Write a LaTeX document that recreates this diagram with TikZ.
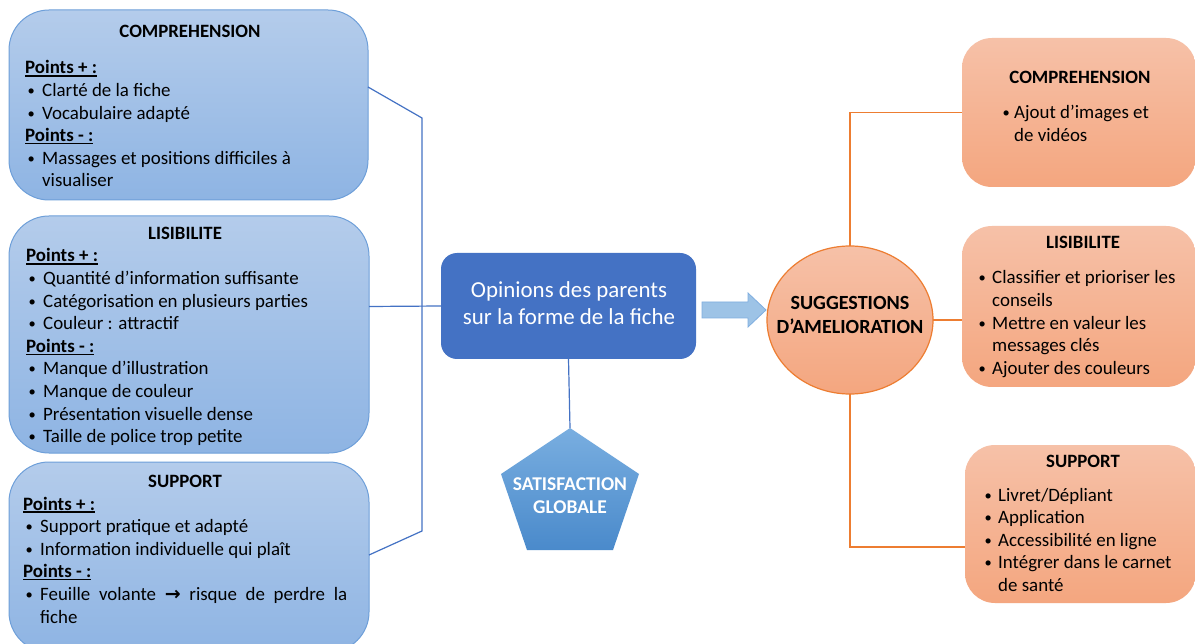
\documentclass[tikz,border=0pt]{standalone}
\usepackage{fontspec}
\setmainfont{Carlito}
\newfontfamily\arrfont{DejaVu Sans}
\usetikzlibrary{shapes.geometric,calc}
\definecolor{lbTop}{HTML}{B4CCEB}
\definecolor{lbBot}{HTML}{8EB4E3}
\definecolor{lbBorder}{HTML}{6E9FD9}
\definecolor{cBlue}{HTML}{4472C4}
\definecolor{orTop}{HTML}{F6C1A8}
\definecolor{orBot}{HTML}{F4A67F}
\definecolor{orLine}{HTML}{ED7D31}
\definecolor{arrFill}{HTML}{9DC3E6}
\definecolor{arrBorder}{HTML}{7FAEE0}
\definecolor{pTop}{HTML}{79AEE0}
\definecolor{pBot}{HTML}{4A8ACB}
\newlength\bw
\newcommand\ulx[1]{\setbox0\hbox{#1}\rlap{\rule[-2.6pt]{\wd0}{1.3pt}}\box0}
\newcommand\hd[1]{\par\noindent\textbf{\ulx{#1}}}
\newcommand\bdot{\hspace*{2.5pt}\raisebox{1pt}{\fontsize{14.5}{14.5}\selectfont\textbullet}}
\newcommand\bl[1]{\par\noindent\makebox[\bw][l]{\bdot}#1}
\newcommand\ct[1]{\par\noindent\hspace*{\bw}#1}
\tikzset{
  lbox/.style={rectangle, rounded corners=40pt, draw=lbBorder, line width=1pt, top color=lbTop, bottom color=lbBot, inner sep=0pt, outer sep=0pt},
  rbox/.style={rectangle, rounded corners=30pt, draw=none, top color=orTop, bottom color=orBot, inner sep=0pt, outer sep=0pt},
  ttl/.style={font=\fontsize{18.8}{22}\selectfont\bfseries, inner sep=0pt, anchor=base},
  txt/.style={font=\fontsize{18.9}{22.6}\selectfont, inner sep=0pt, anchor=base west},
  bline/.style={draw=cBlue, line width=1.2pt},
  oline/.style={draw=orLine, line width=1.5pt},
}
\begin{document}
\begin{tikzpicture}[x=1pt,y=-1pt]
\path[use as bounding box, clip] (0,0) rectangle (1195,644);
\fill[white] (0,0) rectangle (1195,644);
% left boxes
\node[lbox, minimum width=359pt, minimum height=190pt] (L1) at (188.5,105) {};
\node[lbox, minimum width=360pt, minimum height=237pt] (L2) at (189,334.5) {};
\node[lbox, minimum width=360pt, minimum height=190pt] (L3) at (189,557) {};
% right boxes
\node[rbox, minimum width=234pt, minimum height=149pt] (R1) at (1079,112.5) {};
\node[rbox, minimum width=234pt, minimum height=161pt] (R2) at (1079,306.5) {};
\node[rbox, minimum width=231pt, minimum height=158pt] (R3) at (1080.5,524) {};
% centre box
\node[rectangle, rounded corners=16pt, fill=cBlue, minimum width=255pt, minimum height=106pt, inner sep=0pt, outer sep=0pt] (C) at (568.5,306) {};
\node[font=\fontsize{22.9}{27}\selectfont, text=white, align=center, inner sep=0pt] (Ct) at (569,303) {Opinions des parents\\sur la forme de la fiche};
% ellipse
\node[ellipse, draw=orLine, line width=1.2pt, top color=orTop, bottom color=orBot, minimum width=166pt, minimum height=148pt, inner sep=0pt, outer sep=0pt] (E) at (850,320) {};
\node[font=\fontsize{20.1}{24}\selectfont\bfseries, align=center, inner sep=0pt] (Et) at (850,315) {SUGGESTIONS\\D’AMELIORATION};
% pentagon
\coordinate (ptop) at (570,428);
\shade[top color=pTop, bottom color=pBot] (ptop) -- (639,474) -- (613,550) -- (527,550) -- (501,474) -- cycle;
\node[font=\fontsize{19.5}{23}\selectfont\bfseries, text=white, align=center, inner sep=0pt] (Pt) at (570,496) {SATISFACTION\\GLOBALE};
% block arrow
\filldraw[fill=arrFill, draw=arrBorder, line width=0.8pt] (702,302) -- (748,302) -- (748,293) -- (766,310) -- (748,327) -- (748,318) -- (702,318) -- cycle;
% connectors
\draw[bline] ([yshift=18pt]L1.east) -- (422,118) coordinate (jt) -- (422,531) coordinate (jb) -- ([yshift=2pt]L3.east);
\draw[bline] ([yshift=28pt]L2.east) -- (C.west);
\draw[bline] (C.south) -- (ptop);
\draw[oline] (E.north) |- (R1.west);
\draw[oline] (E.east) -- (E.east -| R2.west);
\draw[oline] (E.south) |- ([yshift=-23pt]R3.west);
% left texts
\node[ttl] (h1) at (190,37.5) {COMPREHENSION};
\node[txt] (t1) at (25,74) {\parbox[t]{330pt}{\setlength\bw{17pt}%
\hd{Points + :}\bl{Clarté de la fiche}\bl{Vocabulaire adapté}\hd{Points - :}\bl{Massages et positions difficiles à}\ct{visualiser}}};
\node[ttl] (h2) at (185,239.5) {LISIBILITE};
\node[txt] (t2) at (26,262) {\parbox[t]{330pt}{\setlength\bw{17pt}%
\hd{Points + :}\bl{Quantité d’information suffisante}\bl{Catégorisation en plusieurs parties}\bl{Couleur : attractif}\hd{Points - :}\bl{Manque d’illustration}\bl{Manque de couleur}\bl{Présentation visuelle dense}\bl{Taille de police trop petite}}};
\node[ttl] (h3) at (185,487.5) {SUPPORT};
\node[txt] (t3) at (23,510) {\parbox[t]{330pt}{\setlength\bw{17pt}%
\hd{Points + :}\bl{Support pratique et adapté}\bl{Information individuelle qui plaît}\hd{Points - :}\bl{\makebox[307pt][s]{Feuille volante {\arrfont\bfseries\fontsize{19}{19}\selectfont →} risque de perdre la}}\ct{fiche}}};
% right texts
\node[ttl] (h4) at (1080,83.5) {COMPREHENSION};
\node[txt] (t4) at (1000,119) {\parbox[t]{180pt}{\setlength\bw{14pt}%
\bl{Ajout d’images et}\ct{de vidéos}}};
\node[ttl] (h5) at (1083,248.5) {LISIBILITE};
\node[txt] (t5) at (976,284) {\parbox[t]{215pt}{\setlength\bw{16pt}%
\bl{Classifier et prioriser les}\ct{conseils}\bl{Mettre en valeur les}\ct{messages clés}\bl{Ajouter des couleurs}}};
\node[ttl] (h6) at (1083,467.5) {SUPPORT};
\node[txt] (t6) at (982,501) {\parbox[t]{215pt}{\setlength\bw{16pt}%
\bl{Livret/Dépliant}\bl{Application}\bl{Accessibilité en ligne}\bl{Intégrer dans le carnet}\ct{de santé}}};
\end{tikzpicture}
\end{document}
